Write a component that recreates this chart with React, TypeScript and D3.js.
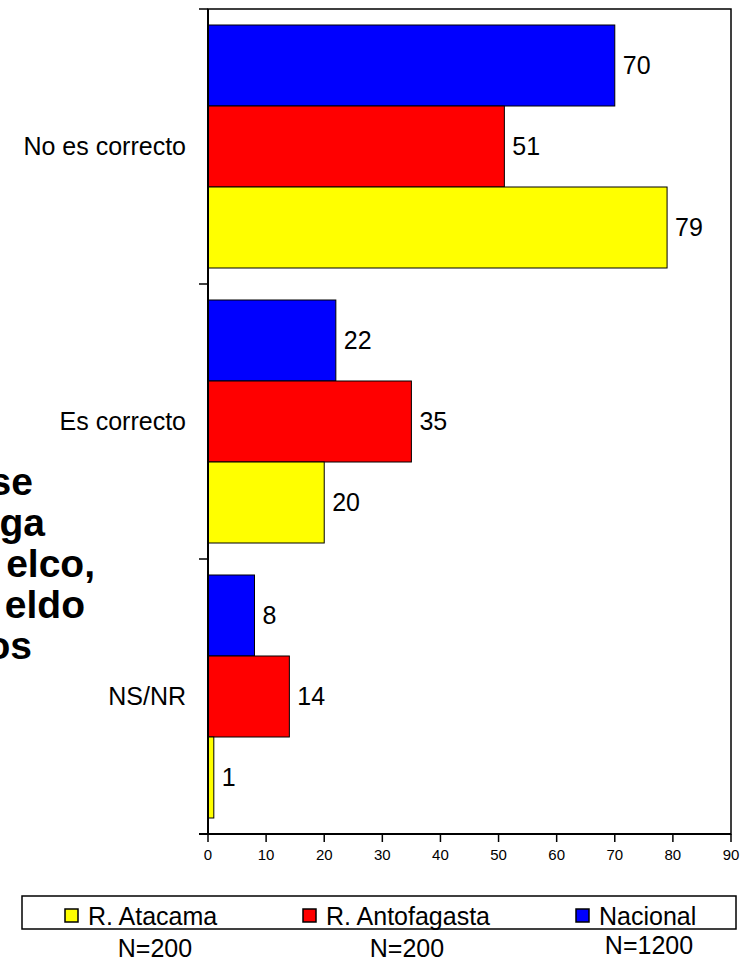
import * as d3 from "d3";

const categories = ["No es correcto", "Es correcto", "NS/NR"];
const series = ["Nacional", "R. Antofagasta", "R. Atacama"];
const nacional = [70, 22, 8];
const antofagasta = [51, 35, 14];
const atacama = [79, 20, 1];
const xTicks = [0, 10, 20, 30, 40, 50, 60, 70, 80, 90];
const legendOrder = ["R. Atacama", "R. Antofagasta", "Nacional"];
const sampleSizes = ["N=200", "N=200", "N=1200"];
// title lines, clipped at the left edge of the page in the original
const titleLines = ["se", "ga", "elco,", "eldo", "os"];

const colors: Record<string, string> = {
  Nacional: "#0000FF",
  "R. Antofagasta": "#FF0000",
  "R. Atacama": "#FFFF00",
};

const W = 751;
const H = 961;
const plot = { left: 208, right: 731, top: 9, bottom: 834 };
const font = "'Liberation Sans', Arial, sans-serif";

export default function App() {
  const values: Record<string, number[]> = {
    Nacional: nacional,
    "R. Antofagasta": antofagasta,
    "R. Atacama": atacama,
  };

  const x = d3.scaleLinear().domain([0, 90]).range([plot.left, plot.right]);
  const y = d3
    .scaleBand<string>()
    .domain(categories)
    .range([plot.top, plot.bottom]);
  const sub = d3
    .scaleBand<string>()
    .domain(series)
    .range([16, y.bandwidth() - 16]);

  // band boundaries for the left-axis ticks
  const bandEdges = categories.map((c) => y(c)!).concat([plot.bottom]);

  const legendX = [65, 303, 576];
  const nX = [155, 407, 649];
  const nY = [957, 957, 954];
  const titleEnds = [33, 45, 95, 85, 32];

  return (
    <svg
      width={W}
      height={H}
      style={{ position: "absolute", left: 0, top: 0, background: "#fff" }}
      fontFamily={font}
    >
      {/* clipped title */}
      {titleLines.map((t, i) => (
        <text
          key={t}
          x={titleEnds[i]}
          y={495 + i * 41}
          textAnchor="end"
          fontWeight="bold"
          fontSize={39}
        >
          {t}
        </text>
      ))}

      {/* plot area */}
      <rect
        x={plot.left}
        y={plot.top}
        width={plot.right - plot.left}
        height={plot.bottom - plot.top}
        fill="#fff"
        stroke="#000"
        strokeWidth={1.5}
      />

      {/* bars */}
      {categories.map((c, ci) => (
        <g key={c} transform={`translate(0, ${y(c)})`}>
          {series.map((s) => {
            const v = values[s][ci];
            const by = sub(s)!;
            return (
              <g key={s}>
                <rect
                  x={x(0)}
                  y={by}
                  width={x(v) - x(0)}
                  height={sub.bandwidth()}
                  fill={colors[s]}
                  stroke="#000"
                  strokeWidth={1}
                />
                <text
                  x={x(v) + 8}
                  y={by + sub.bandwidth() / 2}
                  dy="0.35em"
                  fontSize={25}
                >
                  {v}
                </text>
              </g>
            );
          })}
          <text
            x={186}
            y={y.bandwidth() / 2}
            dy="0.35em"
            textAnchor="end"
            fontSize={25}
          >
            {c}
          </text>
        </g>
      ))}

      {/* left axis */}
      <line
        x1={plot.left}
        x2={plot.left}
        y1={plot.top}
        y2={plot.bottom}
        stroke="#000"
        strokeWidth={2}
      />
      {bandEdges.map((e, i) => (
        <line
          key={i}
          x1={plot.left - 9}
          x2={plot.left}
          y1={e}
          y2={e}
          stroke="#000"
          strokeWidth={1.5}
        />
      ))}

      {/* bottom axis */}
      <line
        x1={plot.left - 9}
        x2={plot.right}
        y1={plot.bottom}
        y2={plot.bottom}
        stroke="#000"
        strokeWidth={2}
      />
      {xTicks.map((t) => (
        <g key={t}>
          <line
            x1={x(t)}
            x2={x(t)}
            y1={plot.bottom}
            y2={plot.bottom + 8}
            stroke="#000"
            strokeWidth={1.5}
          />
          <text x={x(t)} y={860} textAnchor="middle" fontSize={15}>
            {t}
          </text>
        </g>
      ))}

      {/* legend */}
      <rect
        x={22}
        y={896}
        width={714}
        height={33}
        fill="#fff"
        stroke="#000"
        strokeWidth={1.5}
      />
      {legendOrder.map((s, i) => (
        <g key={s}>
          <rect
            x={legendX[i]}
            y={909}
            width={13}
            height={13}
            fill={colors[s]}
            stroke="#000"
            strokeWidth={1.5}
          />
          <text x={legendX[i] + 23} y={925} fontSize={25}>
            {s}
          </text>
          <text x={nX[i]} y={nY[i]} textAnchor="middle" fontSize={25}>
            {sampleSizes[i]}
          </text>
        </g>
      ))}
    </svg>
  );
}
